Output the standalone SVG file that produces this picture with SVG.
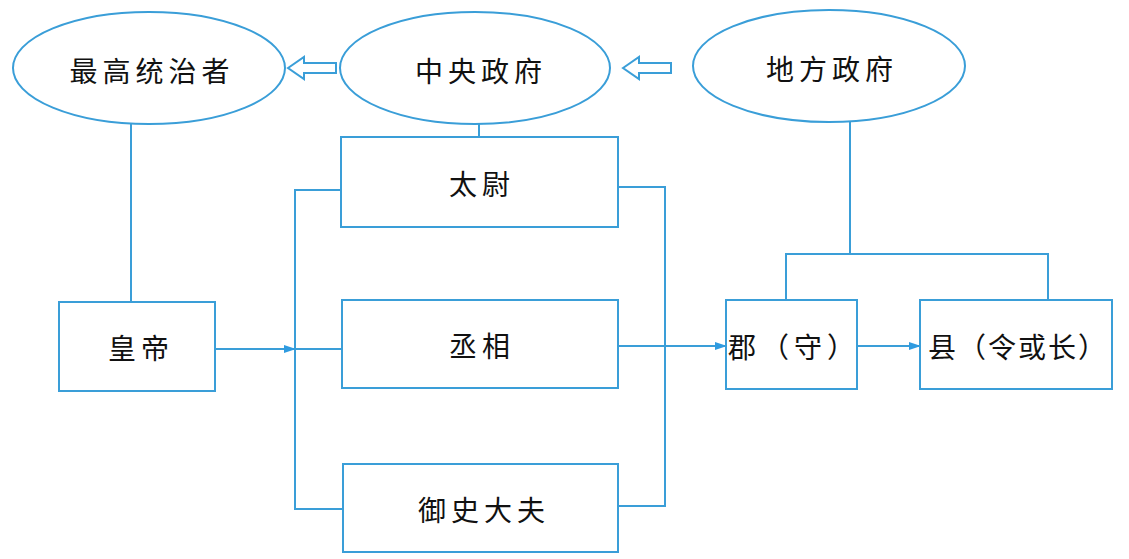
<svg xmlns="http://www.w3.org/2000/svg" width="1129" height="559" viewBox="0 0 1129 559">
<style>
.s{fill:none;stroke:#3a9ed8;stroke-width:2}
.n{fill:#fff;stroke:#3a9ed8;stroke-width:2}
.t{font-family:"Noto Sans CJK SC","Noto Sans CJK JP",sans-serif;font-size:28px;fill:#111;text-anchor:middle;dominant-baseline:central;letter-spacing:5px}
</style>
<defs>
<marker id="ah" markerWidth="12" markerHeight="10" refX="11" refY="5" orient="auto" markerUnits="userSpaceOnUse">
<path d="M0,1 L12,5 L0,9 Z" fill="#2f9be0"/>
</marker>
</defs>
<rect width="1129" height="559" fill="#fff"/>
<g id="connectors">
<line class="s" x1="131" y1="123" x2="131" y2="302"/>
<line class="s" x1="479" y1="123" x2="479" y2="137"/>
<line class="s" x1="850" y1="122" x2="850" y2="254"/>
<polyline class="s" points="786,300 786,254 1048,254 1048,300"/>
<polyline class="s" points="342,190 295,190 295,509 343,509"/>
<polyline class="s" points="618,187 665,187 665,506 618,506"/>
<line class="s" x1="215" y1="349" x2="295" y2="349" marker-end="url(#ah)"/>
<line class="s" x1="295" y1="349" x2="342" y2="349"/>
<line class="s" x1="618" y1="346" x2="726" y2="346" marker-end="url(#ah)"/>
<line class="s" x1="857" y1="346" x2="920" y2="346" marker-end="url(#ah)"/>
<polygon class="n" points="288,68 304,57 304,63 336,63 336,73 304,73 304,79"/>
<polygon class="n" points="623,68 639,57 639,63 671,63 671,73 639,73 639,79"/>
</g>
<g id="n-top"><ellipse class="n" cx="149" cy="68" rx="136" ry="56"/><text class="t" x="152" y="70">最高统治者</text></g>
<g id="n-central"><ellipse class="n" cx="475" cy="68" rx="135" ry="56"/><text class="t" x="481" y="70">中央政府</text></g>
<g id="n-local"><ellipse class="n" cx="829" cy="66" rx="136" ry="56"/><text class="t" x="832" y="68">地方政府</text></g>
<g id="n-emperor"><rect class="n" x="59" y="302" width="156" height="89"/><text class="t" x="141" y="347">皇帝</text></g>
<g id="n-taiwei"><rect class="n" x="341" y="137" width="277" height="90"/><text class="t" x="482" y="183">太尉</text></g>
<g id="n-chengxiang"><rect class="n" x="342" y="300" width="276" height="88"/><text class="t" x="482" y="345">丞相</text></g>
<g id="n-yushi"><rect class="n" x="343" y="464" width="275" height="88"/><text class="t" x="484" y="509">御史大夫</text></g>
<g id="n-jun"><rect class="n" x="726" y="300" width="131" height="89"/><text class="t" x="794" y="346">郡（守）</text></g>
<g id="n-xian"><rect class="n" x="920" y="300" width="192" height="89"/><text class="t" x="1018" y="346" style="letter-spacing:2px">县（令或长）</text></g>
</svg>
